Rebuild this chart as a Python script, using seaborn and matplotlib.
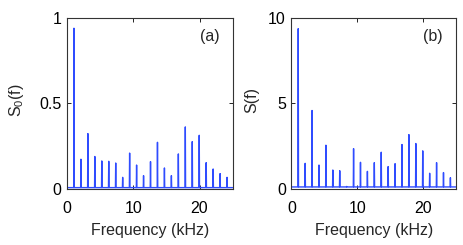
import numpy as np
import pandas as pd
import matplotlib
matplotlib.use('Agg')
import matplotlib.pyplot as plt
import seaborn as sns

# 谐波频率 (kHz)，基频约 1.05 kHz
峰频率 = [1.05, 2.10, 3.15, 4.20, 5.25, 6.30, 7.35, 8.40, 9.45, 10.50, 11.55, 12.60,
       13.65, 14.70, 15.75, 16.80, 17.85, 18.90, 19.95, 21.00, 22.05, 23.10, 24.15]

# (a) S0(f) 峰值
峰值_a = [0.94, 0.174, 0.324, 0.19, 0.164, 0.162, 0.152, 0.068, 0.21, 0.14, 0.078, 0.16,
        0.273, 0.123, 0.078, 0.205, 0.363, 0.277, 0.314, 0.154, 0.117, 0.09, 0.068]

# (b) S(f) 峰值
峰值_b = [9.375, 1.5, 4.59, 1.4, 2.56, 1.11, 1.07, 0.15, 2.36, 1.56, 1.03, 1.54,
        2.15, 1.31, 1.48, 2.6, 3.18, 2.66, 2.23, 0.92, 1.54, 0.96, 0.66]

底噪_a = 0.008
底噪_b = 0.12

x_max = 25
蓝色 = '#2f4cff'


def 谱线表(freqs, heights, floor, half_w=0.04):
    # 用峰值表拼成窄三角的线谱
    xs = [0.0]
    ys = [floor]
    for f, h in zip(freqs, heights):
        xs += [f - half_w, f, f + half_w]
        ys += [floor, h, floor]
    xs.append(x_max)
    ys.append(floor)
    return pd.DataFrame({'freq': xs, 'S': ys})


sns.set_style('ticks')
plt.rcParams['font.family'] = ['Liberation Sans', 'DejaVu Sans']
plt.rcParams['mathtext.default'] = 'regular'
plt.rcParams['font.size'] = 11.5
plt.rcParams['xtick.direction'] = 'in'
plt.rcParams['ytick.direction'] = 'in'
plt.rcParams['xtick.top'] = True
plt.rcParams['ytick.right'] = True

fig = plt.figure(figsize=(4.63, 2.45), dpi=100)
ax_a = fig.add_axes([0.1447, 0.2286, 0.3579, 0.698])
ax_b = fig.add_axes([0.6292, 0.2286, 0.3557, 0.698])

面板 = [
    (ax_a, 峰值_a, 底噪_a, 1.0, [0, 0.5, 1], ['0', '0.5', '1'], 'S$_0$(f)', '(a)', -0.25),
    (ax_b, 峰值_b, 底噪_b, 10.0, [0, 5, 10], ['0', '5', '10'], 'S(f)', '(b)', -0.195),
]

for ax, heights, floor, ymax, yt, ytl, ylab, tag, ylab_x in 面板:
    df = 谱线表(峰频率, heights, floor)
    sns.lineplot(data=df, x='freq', y='S', estimator=None, sort=False,
                 ax=ax, color=蓝色, lw=1.0)
    ax.set_xlim(0, x_max)
    ax.set_ylim(0, ymax)
    ax.set_xticks([0, 10, 20])
    ax.set_xticklabels(['0', '10', '20'])
    ax.set_yticks(yt)
    ax.set_yticklabels(ytl)
    ax.set_xlabel('Frequency (kHz)', labelpad=5.5)
    ax.set_ylabel(ylab)
    ax.yaxis.set_label_coords(ylab_x, 0.52)
    ax.tick_params(length=3, width=0.6, colors='black', labelsize=11.5)
    ax.tick_params(axis='x', pad=8.5)
    ax.tick_params(axis='y', pad=4)
    for s in ax.spines.values():
        s.set_linewidth(0.8)
        s.set_color('#333333')
    ax.text(0.80, 0.89, tag, transform=ax.transAxes, fontsize=11.5,
            va='center', ha='left')

fig.savefig('out.png', dpi=100)
